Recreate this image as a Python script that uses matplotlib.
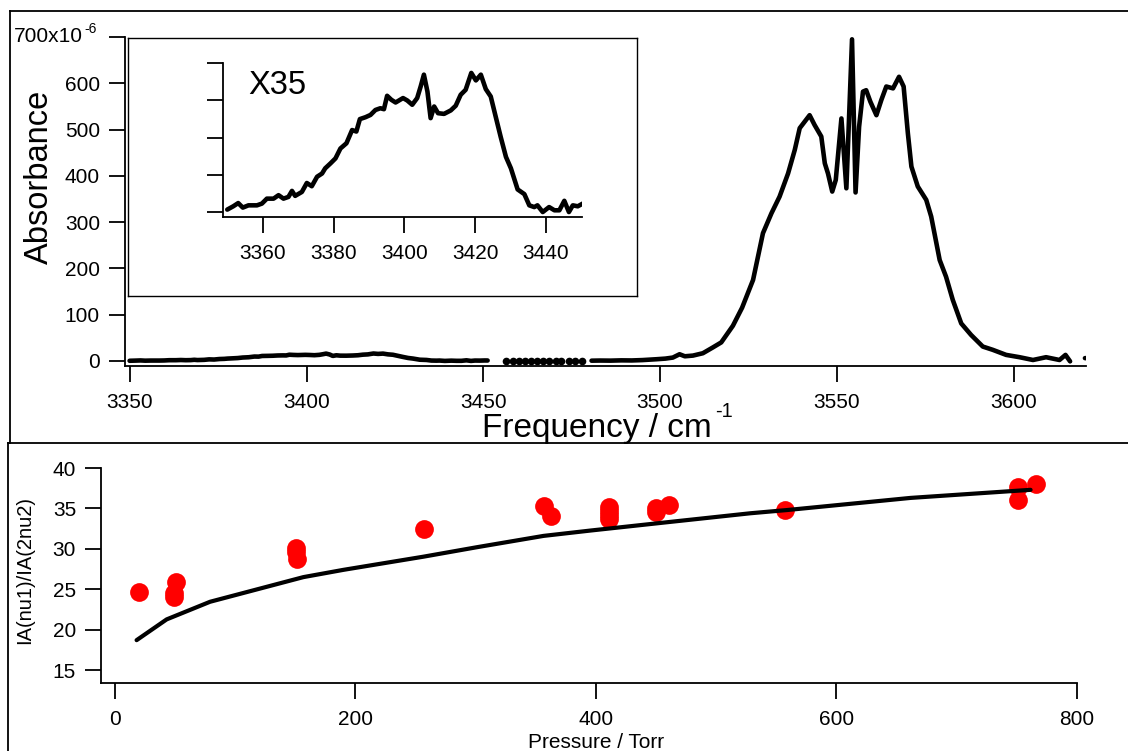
import numpy as np
import matplotlib
matplotlib.use("Agg")
import matplotlib.pyplot as plt
from matplotlib.lines import Line2D

plt.rcParams['font.family'] = ['Liberation Sans', 'DejaVu Sans']

# spectrum, 3350-3451 cm-1 (absorbance in units of 1e-6)
freq_low = [3349.9, 3351.6, 3353.0, 3354.3, 3355.9, 3358.3, 3359.7, 3361.1, 3363.0, 3364.4,
            3365.8, 3367.2, 3368.2, 3369.1, 3371.0, 3372.4, 3373.8, 3375.3, 3376.7, 3377.6,
            3379.1, 3380.5, 3381.9, 3383.6, 3385.2, 3386.4, 3387.4, 3389.0, 3390.4, 3391.8,
            3393.2, 3394.2, 3395.1, 3396.3, 3397.5, 3399.6, 3400.8, 3402.2, 3403.6, 3404.6,
            3405.5, 3406.5, 3407.4, 3408.4, 3409.5, 3411.2, 3413.1, 3414.5, 3415.9, 3417.3,
            3418.9, 3420.2, 3421.6, 3423.0, 3424.4, 3425.8, 3427.2, 3428.7, 3430.1, 3432.0,
            3433.9, 3435.3, 3436.7, 3437.6, 3439.1, 3440.9, 3442.4, 3443.8, 3445.2, 3446.5,
            3447.6, 3449.0, 3450.4, 3451.2]
abs_low = [0.28, 0.66, 1.03, 0.51, 0.77, 0.77, 0.97, 1.54, 1.54, 1.94,
           1.54, 1.74, 2.43, 1.86, 2.31, 3.34, 2.97, 4.06, 4.43, 5.03,
           5.60, 6.17, 7.31, 7.91, 9.43, 9.26, 10.69, 10.91, 11.17, 11.74,
           11.94, 11.83, 13.37, 12.91, 12.60, 13.11, 12.83, 12.34, 13.11, 14.46,
           15.80, 13.86, 10.80, 12.14, 11.37, 11.29, 11.69, 12.23, 13.49, 14.06,
           16.00, 15.14, 15.80, 14.14, 13.29, 10.97, 8.66, 6.34, 5.03, 2.60,
           2.06, 0.77, 0.57, 0.77, 0.00, 0.57, 0.20, 0.20, 1.29, 0.00,
           0.77, 0.66, 0.97, 0.90]

# sparse points between the two scans
freq_mid = [3456.3, 3458.3, 3460.0, 3461.8, 3463.5, 3465.3, 3467.0, 3468.7, 3470.5, 3472.0,
            3474.2, 3476.0, 3478.0]
abs_mid = [0.4, 0.6, 0.3, 0.5, 0.8, 0.4, 0.6, 0.5, 0.3, 0.7, 0.5, 0.6, 0.4]

# main band, 3480-3621 cm-1
freq_high = [3480.6, 3483.0, 3486.0, 3489.0, 3492.0, 3495.0, 3498.9, 3501.5, 3503.6, 3505.5,
             3507.0, 3509.3, 3512.1, 3514.9, 3517.3, 3520.6, 3523.2, 3526.3, 3529.1, 3531.5,
             3533.8, 3536.2, 3538.1, 3539.5, 3542.3, 3543.7, 3545.6, 3546.6, 3547.5, 3548.7,
             3549.7, 3551.3, 3552.7, 3554.3, 3555.3, 3556.3, 3557.4, 3558.3, 3559.5, 3561.2,
             3562.6, 3564.0, 3565.9, 3567.6, 3568.9, 3570.1, 3571.1, 3572.9, 3575.3, 3576.7,
             3579.1, 3580.9, 3582.8, 3585.2, 3588.0, 3591.3, 3594.1, 3597.9, 3601.7, 3605.5,
             3609.2, 3613.0, 3614.7, 3616.0, 3618.0, 3620.2, 3620.5]
abs_high = [0.5, 0.8, 0.6, 1.2, 1.0, 1.8, 3.6, 5.0, 7.2, 14.4,
            10.0, 11.5, 16.6, 29.0, 40.0, 76.0, 115.0, 175.0, 276.0, 319.0,
            355.0, 405.0, 456.0, 503.0, 531.0, 510.0, 485.0, 427.0, 405.0, 366.0,
            391.0, 524.0, 373.0, 695.0, 364.0, 506.0, 582.0, 585.0, 560.0, 531.0,
            564.0, 593.0, 589.0, 614.0, 593.0, 492.0, 420.0, 377.0, 348.0, 312.0,
            218.0, 182.0, 132.0, 81.0, 56.0, 31.0, 24.0, 13.0, 8.0, 2.0,
            8.0, 2.0, 13.0, -1.0, np.nan, 6.0, 6.0]

inset_scale = 35

# intensity ratio vs pressure
pressure = [20.3, 50.8, 49.3, 49.3, 150.3, 150.3, 151.2, 256.6, 356.4, 362.6,
            410.5, 410.5, 410.5, 410.5, 450.2, 450.2, 460.5, 557.5, 750.9, 750.9, 765.6]
ratio = [24.7, 25.9, 24.5, 24.0, 30.1, 29.6, 28.8, 32.5, 35.3, 34.1,
         35.2, 34.7, 34.2, 33.7, 35.0, 34.5, 35.4, 34.8, 37.7, 36.0, 38.05]

model_p = [18.0, 43.0, 79.1, 156.7, 190.0, 256.6, 301.0, 356.4, 395.3, 453.5,
           528.4, 559.0, 661.6, 761.4]
model_r = [18.7, 21.27, 23.45, 26.5, 27.4, 29.03, 30.2, 31.6, 32.26, 33.2,
           34.4, 34.8, 36.3, 37.3]

W, H = 1128, 751


def box(x0, y0, x1, y1):
    # pixel box (top-left origin) -> figure fraction rect
    return [x0 / W, 1 - y1 / H, (x1 - x0) / W, (y1 - y0) / H]


def fx(x):
    return x / W


def fy(y):
    return 1 - y / H


def igor_style(ax, pad_x=8, pad_y=6.5):
    for s in ['top', 'right']:
        ax.spines[s].set_visible(False)
    for s in ['left', 'bottom']:
        ax.spines[s].set_linewidth(1.3)
    ax.tick_params(direction='out', length=11.5, width=1.3, labelsize=15)
    ax.tick_params(axis='x', pad=pad_x)
    ax.tick_params(axis='y', pad=pad_y)
    ax.patch.set_alpha(0)


fig = plt.figure(figsize=(W / 100, H / 100), dpi=100)

# window frames
lw_frame = 1.3
for xs, ys in [([10, W], [11, 11]), ([10, 10], [11, 443]),
               ([8, W], [443, 443]), ([8, 8], [443, H])]:
    fig.add_artist(Line2D([fx(v) for v in xs], [fy(v) for v in ys],
                          color='black', lw=lw_frame))

# top graph: spectrum
line_kw = dict(color='black', lw=3.3, solid_capstyle='round', solid_joinstyle='round')
ax = fig.add_axes(box(125, 37, 1086, 366))
igor_style(ax)
ax.plot(freq_low, abs_low, **line_kw)
ax.plot(freq_mid, abs_mid, 'o', color='black', ms=5.5, mec='none')
ax.plot(freq_high, abs_high, **line_kw)
ax.set_xlim(3348.6, 3620.5)
ax.set_ylim(-11, 700)
ax.set_xticks(np.arange(3350, 3601, 50))
ax.set_yticks(np.arange(0, 701, 100))
ax.set_yticklabels([str(v) for v in range(0, 700, 100)] + [''])

fig.text(fx(83), fy(37), '700x10', fontsize=15, ha='right', va='center')
fig.text(fx(84), fy(33), '-6', fontsize=10, ha='left', va='baseline')
fig.text(fx(39), fy(177), 'Absorbance', fontsize=23.5, rotation=90, ha='center', va='center')
fig.text(fx(482), fy(437), 'Frequency / cm', fontsize=24, ha='left', va='baseline')
fig.text(fx(715), fy(417), '-1', fontsize=14.5, ha='left', va='baseline')

# inset frame and x35 blow-up of the weak band
frame = fig.add_axes(box(128, 38, 637, 296))
frame.set_xticks([])
frame.set_yticks([])
frame.set_facecolor('white')
for s in frame.spines.values():
    s.set_linewidth(1.0)

ins = fig.add_axes(box(223, 63, 582, 217))
igor_style(ins)
ins.plot(freq_low, np.array(abs_low) * inset_scale, **line_kw)
ins.set_xlim(3348.7, 3450.2)
ins.set_ylim(-20, 600)
ins.set_xticks(np.arange(3360, 3441, 20))
ins.set_yticks([0, 150, 300, 450, 600])
ins.set_yticklabels([])
fig.text(fx(248), fy(94), 'X%d' % inset_scale, fontsize=23.5, ha='left', va='baseline')

# bottom graph: intensity ratio
bx = fig.add_axes(box(101, 468, 1077, 683))
igor_style(bx)
bx.plot(model_p, model_r, color='black', lw=3.0, solid_capstyle='round', zorder=3)
bx.plot(pressure, ratio, 'o', color='red', ms=13.5, mec='none', zorder=2)
bx.set_xlim(-11.6, 800)
bx.set_ylim(13.4, 40)
bx.set_xticks([0, 200, 400, 600, 800])
bx.set_yticks([15, 20, 25, 30, 35, 40])
fig.text(fx(596), fy(748), 'Pressure / Torr', fontsize=15, ha='center', va='baseline')
fig.text(fx(25), fy(570), 'IA(nu1)/IA(2nu2)', fontsize=14.5, rotation=90, ha='center', va='center')

fig.savefig('out.png', dpi=100)
